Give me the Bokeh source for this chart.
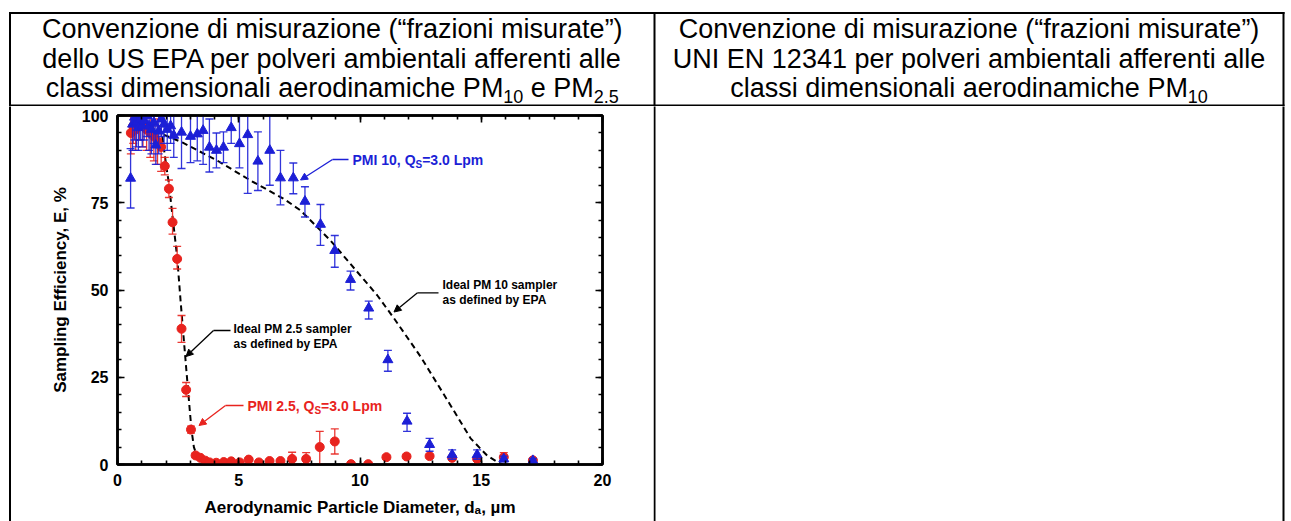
import numpy as np
from bokeh.plotting import figure
from bokeh.layouts import row, column
from bokeh.models import (Label, Arrow, NormalHead, Range1d, LinearAxis,
                          FixedTicker, CustomJSTickFormatter)
from bokeh.embed import file_html
from bokeh.resources import INLINE

# ---------------- data ----------------
# PMI 10, Qs = 3.0 Lpm  (blue triangles)
pmi10_d = [0.54, 0.62, 0.70, 0.78, 0.86, 0.94, 1.02, 1.10, 1.22, 1.30, 1.40, 1.50, 1.58, 1.70,
           1.81, 1.92, 2.05, 2.19, 2.32, 2.64, 3.01, 3.29, 3.53, 3.79, 4.08, 4.37, 4.69, 5.03,
           5.37, 5.79, 6.28, 6.72, 7.25, 7.73, 8.37, 8.96, 9.61, 10.36, 11.15, 11.94, 12.87,
           13.80, 14.83, 15.93, 17.13]
pmi10_e = [82.0, 97.5, 99.5, 98.0, 96.5, 99.0, 97.0, 98.5, 100.0, 97.0, 96.0, 98.0, 91.5, 95.5,
           99.0, 97.5, 96.0, 97.0, 94.3, 95.2, 94.0, 94.7, 95.7, 90.9, 90.0, 90.9, 96.5, 91.9,
           94.5, 86.9, 90.0, 82.1, 82.1, 75.4, 68.8, 61.3, 53.0, 44.8, 30.0, 12.4, 5.7,
           2.8, 2.8, 1.6, 1.1]
pmi10_lo = [73.5, 90.0, 93.0, 91.0, 90.0, 93.0, 91.0, 93.0, 94.0, 90.0, 89.0, 92.0, 86.0, 89.0,
            94.0, 92.0, 90.0, 92.0, 88.0, 84.8, 86.5, 87.0, 86.0, 83.8, 85.0, 86.5, 92.0, 85.0,
            77.7, 78.5, 80.0, 74.4, 77.6, 70.9, 62.8, 56.5, 50.0, 41.7, 26.7, 9.5, 3.8,
            1.5, 1.5, 0.8, 0.5]
pmi10_hi = [90.5, 100.0, 100.0, 100.0, 100.0, 100.0, 100.0, 100.0, 104.0, 100.0, 100.0, 100.0, 97.0, 100.0,
            100.0, 100.0, 100.0, 100.0, 100.0, 104.0, 101.0, 102.0, 104.0, 99.0, 95.0, 95.3, 101.0, 100.0,
            104.0, 95.3, 100.0, 90.0, 86.4, 79.6, 74.5, 65.6, 55.4, 46.8, 32.7, 14.7, 7.5,
            4.2, 4.2, 2.4, 1.7]

# PMI 2.5, Qs = 3.0 Lpm  (red circles)
pmi25_d = [0.55, 0.65, 0.75, 0.90, 1.05, 1.20, 1.35, 1.50, 1.65, 1.80, 1.95, 2.12, 2.27, 2.46,
           2.64, 2.83, 3.03, 3.22, 3.42, 3.62, 3.80, 4.07, 4.38, 4.69, 5.04, 5.41, 5.83, 6.27,
           6.72, 7.20, 7.78, 8.34, 8.96, 9.63, 10.34, 11.09, 11.92, 12.87, 13.80, 14.83, 15.93, 17.13]
pmi25_e = [95.0, 97.0, 96.0, 98.0, 97.0, 96.0, 95.0, 94.0, 92.5, 91.0, 85.5, 79.0, 69.4, 58.9,
           38.9, 21.4, 10.0, 2.6, 1.9, 1.1, 0.6, 0.5, 0.7, 0.9, 0.6, 1.4, 0.6, 1.0,
           1.0, 1.6, 1.6, 5.0, 6.6, 0.1, 0.1, 2.1, 2.3, 2.4, 1.9, 1.6, 2.1, 1.2]
pmi25_lo = [89.0, 92.0, 90.0, 93.0, 91.0, 90.0, 88.0, 87.0, 86.0, 84.0, 83.0, 76.5, 66.0, 56.0,
            35.0, 19.5, 9.0, 2.0, 1.4, 0.7, 0.3, 0.2, 0.4, 0.5, 0.3, 0.9, 0.3, 0.6,
            0.6, 0.1, 0.2, 0.0, 3.0, 0.0, 0.0, 1.6, 1.8, 1.9, 1.4, 1.1, 0.9, 0.8]
pmi25_hi = [100.0, 100.0, 100.0, 100.0, 100.0, 100.0, 100.0, 100.0, 99.0, 97.0, 88.0, 81.5, 73.4, 62.5,
            42.7, 23.5, 11.0, 3.2, 2.4, 1.5, 0.9, 0.8, 1.0, 1.3, 0.9, 1.9, 0.9, 1.4,
            1.4, 3.5, 3.4, 9.5, 10.2, 0.2, 0.2, 2.6, 2.8, 2.9, 2.4, 2.1, 3.4, 1.6]

# Ideal samplers as defined by EPA (dashed curves)
ideal25_d = [1.85, 2.00, 2.12, 2.27, 2.46, 2.60, 2.72, 2.84, 2.95, 3.05, 3.15, 3.25, 3.45, 3.80, 4.10]
ideal25_e = [94.0, 86.0, 80.5, 71.0, 59.5, 47.0, 37.0, 27.0, 18.0, 10.0, 5.0, 3.0, 1.8, 0.7, 0.0]
ideal10_d = [1.90, 2.67, 4.11, 5.48, 6.86, 7.55, 8.78, 10.71, 11.39, 12.49, 13.73, 14.56, 15.25, 15.72, 15.90]
ideal10_e = [94.5, 92.3, 87.1, 81.4, 76.1, 72.8, 64.2, 48.5, 42.0, 31.0, 17.0, 7.5, 2.5, 0.5, 0.0]

x_major = [0, 5, 10, 15, 20]
x_minor = list(range(0, 21))
y_major = [0, 25, 50, 75, 100]
y_minor = list(range(0, 101, 5))

x_title = "Aerodynamic Particle Diameter, d\u2090, \u00b5m"
y_title = "Sampling Efficiency, E, %"

header_left = ["Convenzione di misurazione (\u201cfrazioni misurate\u201d)",
               "dello US EPA per polveri ambientali afferenti alle",
               [("classi dimensionali aerodinamiche PM", 0), ("10", 1), ("e PM", 0), ("2.5", 1)]]
header_right = ["Convenzione di misurazione (\u201cfrazioni misurate\u201d)",
                "UNI EN 12341 per polveri ambientali afferenti alle",
                [("classi dimensionali aerodinamiche PM", 0), ("10", 1)]]

BLUE = "#1c1fd6"
RED = "#e8231e"
FONT = "Liberation Sans"

# ---------------- text width helper (Arial / Liberation Sans metrics) ----------------
_lc = "abcdefghijklmnopqrstuvwxyz"
_uc = "ABCDEFGHIJKLMNOPQRSTUVWXYZ"
REG = dict(zip(_lc, [556, 556, 500, 556, 556, 278, 556, 556, 222, 222, 500, 222, 833, 556, 556, 556,
                     556, 333, 500, 278, 556, 500, 722, 500, 500, 500]))
REG.update(zip(_uc, [667, 667, 722, 722, 667, 611, 778, 722, 278, 500, 667, 556, 833, 722, 778, 667,
                     778, 722, 667, 611, 722, 667, 944, 667, 667, 611]))
REG.update({" ": 278, "(": 333, ")": 333, "\u201c": 333, "\u201d": 333, ".": 278, ",": 278, "=": 584})
BLD = dict(zip(_lc, [556, 611, 556, 611, 556, 333, 611, 611, 278, 278, 556, 278, 889, 611, 611, 611,
                     611, 389, 556, 333, 611, 556, 778, 556, 556, 500]))
BLD.update(zip(_uc, [722, 722, 722, 722, 667, 611, 778, 722, 278, 556, 722, 611, 833, 722, 778, 667,
                     778, 722, 667, 611, 722, 667, 944, 667, 667, 611]))
BLD.update({" ": 278, "(": 333, ")": 333, ".": 278, ",": 278, "=": 584})


def tw(s, size, bold=False):
    t = BLD if bold else REG
    return sum(t.get(c, 556) for c in s) * size / 1000.0


MID = 0.347   # distance baseline -> middle of the text box, in em

# ---------------- page geometry ----------------
PW, PH = 1291, 521
HDR_H = 106                      # header row figure height
LOW_H = PH - HDR_H               # lower row height
STRIP_W = 12                     # left strip carrying the table's left border
CHART_W = 641                    # chart cell
RIGHT_W = PW - STRIP_W - CHART_W # right (empty) cell
TL, TDIV, TR, TT, THB = 9.5, 654.0, 1283.0, 12.5, 105.0   # table lines (page px)
LW = 2.0


def blank_fig(w, h):
    f = figure(width=w, height=h, x_range=Range1d(0, w), y_range=Range1d(h, 0),
               output_backend="svg", toolbar_location=None, title=None,
               x_axis_type=None, y_axis_type=None, frame_align=False,
               min_border_left=0, min_border_right=0, min_border_top=0, min_border_bottom=0)
    f.outline_line_color = None
    f.background_fill_color = "white"
    f.border_fill_color = "white"
    return f


def bar(f, l, r, t, b):
    f.quad(left=[l], right=[r], top=[t], bottom=[b], fill_color="black", line_color=None)


# ---------------- header row ----------------
hdr = blank_fig(PW, HDR_H)
bar(hdr, TL - LW / 2, TR + LW / 2, TT - LW / 2, TT + LW / 2)
bar(hdr, TL - LW / 2, TR + LW / 2, THB - LW / 2, THB + LW / 2)
for xv in (TL, TDIV, TR):
    bar(hdr, xv - LW / 2, xv + LW / 2, TT - LW / 2, HDR_H + 1)

HS, HSUB = 27, 18
baselines = [37.5, 67.5, 97.0]


def hlabel(f, x, y, text, size, bold=False, color="black", align="left"):
    # y is the wanted baseline; labels are anchored on the middle of their text box
    f.add_layout(Label(x=x, y=y - MID * size, text=text, text_font=FONT, text_font_size=f"{size}px",
                       text_font_style="bold" if bold else "normal", text_color=color,
                       text_align=align, text_baseline="middle"))


def header(lines, xc):
    for line, b in zip(lines, baselines):
        if isinstance(line, str):
            hlabel(hdr, xc, b, line, HS, align="center")
        else:
            parts = []
            for k, (t, s) in enumerate(line):
                gap = tw(" ", HS) if (k > 0 and not s) else 0
                parts.append((t, s, gap))
            total = sum(tw(t, HSUB if s else HS) + g for t, s, g in parts)
            cx = xc - total / 2
            for t, s, g in parts:
                cx += g
                fs = HSUB if s else HS
                hlabel(hdr, cx, b + (5 if s else 0), t, fs)
                cx += tw(t, fs)


header(header_left, (TL + TDIV) / 2)
header(header_right, (TDIV + TR) / 2)

# ---------------- lower row: left strip, chart, right cell ----------------
strip = blank_fig(STRIP_W, LOW_H)
bar(strip, TL - LW / 2, TL + LW / 2, -1, LOW_H + 1)

right = blank_fig(RIGHT_W, LOW_H)
x0r = STRIP_W + CHART_W
bar(right, TDIV - LW / 2 - x0r, TDIV + LW / 2 - x0r, -1, LOW_H + 1)
bar(right, TR - LW / 2 - x0r, TR + LW / 2 - x0r, -1, LOW_H + 1)

# chart frame in page coordinates
PFL, PFT, PFR, PFB = 117.0, 115.0, 602.0, 464.0
FL = int(PFL - STRIP_W)
FT = int(PFT - HDR_H)
FW = int(PFR - PFL)
FH = int(PFB - PFT)

p = figure(width=CHART_W, height=LOW_H, x_range=Range1d(0, 20), y_range=Range1d(0, 100),
           output_backend="svg", toolbar_location=None, title=None, frame_align=False,
           min_border_left=FL, min_border_right=CHART_W - FL - FW,
           min_border_top=FT, min_border_bottom=LOW_H - FT - FH)
p.background_fill_color = "white"
p.border_fill_color = "white"
p.outline_line_color = "black"
p.outline_line_width = 2.5
p.xgrid.visible = False
p.ygrid.visible = False


def px(x):  # page x -> data x
    return (x - PFL) / (PFR - PFL) * 20.0


def py(y):  # page y -> data y
    return (PFB - y) / (PFB - PFT) * 100.0


def style_axis(ax, labels=True):
    ax.axis_line_color = "black"
    ax.axis_line_width = 2.5
    ax.major_tick_in = 7
    ax.major_tick_out = 0
    ax.minor_tick_in = 4
    ax.minor_tick_out = 0
    ax.major_tick_line_color = "black"
    ax.minor_tick_line_color = "black"
    ax.major_tick_line_width = 1.6
    ax.minor_tick_line_width = 1.6
    ax.major_label_text_font = FONT
    ax.major_label_text_font_style = "bold"
    ax.major_label_text_color = "black"
    if labels:
        ax.major_label_text_font_size = "16px"
        ax.major_label_standoff = 9
    else:
        ax.major_label_text_font_size = "0px"
        ax.major_label_standoff = 0
        ax.formatter = CustomJSTickFormatter(code="return ''")


p.xaxis.ticker = FixedTicker(ticks=x_major, minor_ticks=x_minor)
p.yaxis.ticker = FixedTicker(ticks=y_major, minor_ticks=y_minor)
style_axis(p.xaxis[0])
style_axis(p.yaxis[0])
for ax, t in ((p.yaxis[0], y_title), (p.xaxis[0], x_title)):
    ax.axis_label = t
    ax.axis_label_text_font = FONT
    ax.axis_label_text_font_style = "bold"
    ax.axis_label_text_font_size = "17px"
    ax.axis_label_text_color = "black"
p.yaxis.axis_label_standoff = 9
p.xaxis.axis_label_standoff = 9

top_ax = LinearAxis(ticker=FixedTicker(ticks=x_major, minor_ticks=x_minor))
style_axis(top_ax, labels=False)
p.add_layout(top_ax, "above")
right_ax = LinearAxis(ticker=FixedTicker(ticks=y_major, minor_ticks=y_minor))
style_axis(right_ax, labels=False)
p.add_layout(right_ax, "right")

# ideal curves
p.line(ideal25_d, ideal25_e, line_color="black", line_width=2, line_dash="6 4")
p.line(ideal10_d, ideal10_e, line_color="black", line_width=2, line_dash="6 4")


def errorbars(d, lo, hi, color):
    p.segment(x0=d, y0=lo, x1=d, y1=hi, line_color=color, line_width=1.3, line_alpha=0.9)
    p.scatter(d, lo, marker="dash", size=8, line_color=color, line_width=1.4, line_alpha=0.9)
    p.scatter(d, hi, marker="dash", size=8, line_color=color, line_width=1.4, line_alpha=0.9)


errorbars(pmi25_d, pmi25_lo, pmi25_hi, RED)
p.scatter(pmi25_d, pmi25_e, marker="circle", size=9, fill_color=RED, line_color=RED)
errorbars(pmi10_d, pmi10_lo, pmi10_hi, BLUE)
p.scatter(pmi10_d, pmi10_e, marker="triangle", size=10, fill_color=BLUE, line_color=BLUE)


def leader(pts, color):
    (x0, y0), (x1, y1), (x2, y2) = pts
    p.line([px(x0), px(x1)], [py(y0), py(y1)], line_color=color, line_width=1.3)
    p.add_layout(Arrow(end=NormalHead(size=7, fill_color=color, line_color=color, line_width=1),
                       x_start=px(x1), y_start=py(y1), x_end=px(x2), y_end=py(y2),
                       line_color=color, line_width=1.3))


def rich(x, y, parts, size, color, sub_size=10, sub_dy=3):
    cx = x
    for txt, is_sub in parts:
        fs = sub_size if is_sub else size
        base = y + (sub_dy if is_sub else 0)
        p.add_layout(Label(x=px(cx), y=py(base - MID * fs), text=txt,
                           text_font=FONT, text_font_size=f"{fs}px", text_font_style="bold",
                           text_color=color, text_align="left", text_baseline="middle"))
        cx += tw(txt, fs, True)


rich(352, 164, [("PMI 10, Q", 0), ("S", 1), ("=3.0 Lpm", 0)], 14, BLUE)
leader([(348, 159), (332, 159), (300, 179.5)], BLUE)

rich(247, 410, [("PMI 2.5, Q", 0), ("S", 1), ("=3.0 Lpm", 0)], 14, RED)
leader([(243, 405), (225, 405), (198.5, 425)], RED)

for i, t in enumerate(["Ideal PM 2.5 sampler", "as defined by EPA"]):
    rich(233, 333 + 14.5 * i, [(t, 0)], 12, "black")
leader([(230, 330), (213, 330), (185.5, 356)], "black")

for i, t in enumerate(["Ideal PM 10 sampler", "as defined by EPA"]):
    rich(442, 289 + 14.5 * i, [(t, 0)], 12, "black")
leader([(438, 292.3), (417, 292.3), (393.5, 311.5)], "black")

layout = column(hdr, row(strip, p, right))
open("out.html", "w").write(file_html(layout, INLINE))
